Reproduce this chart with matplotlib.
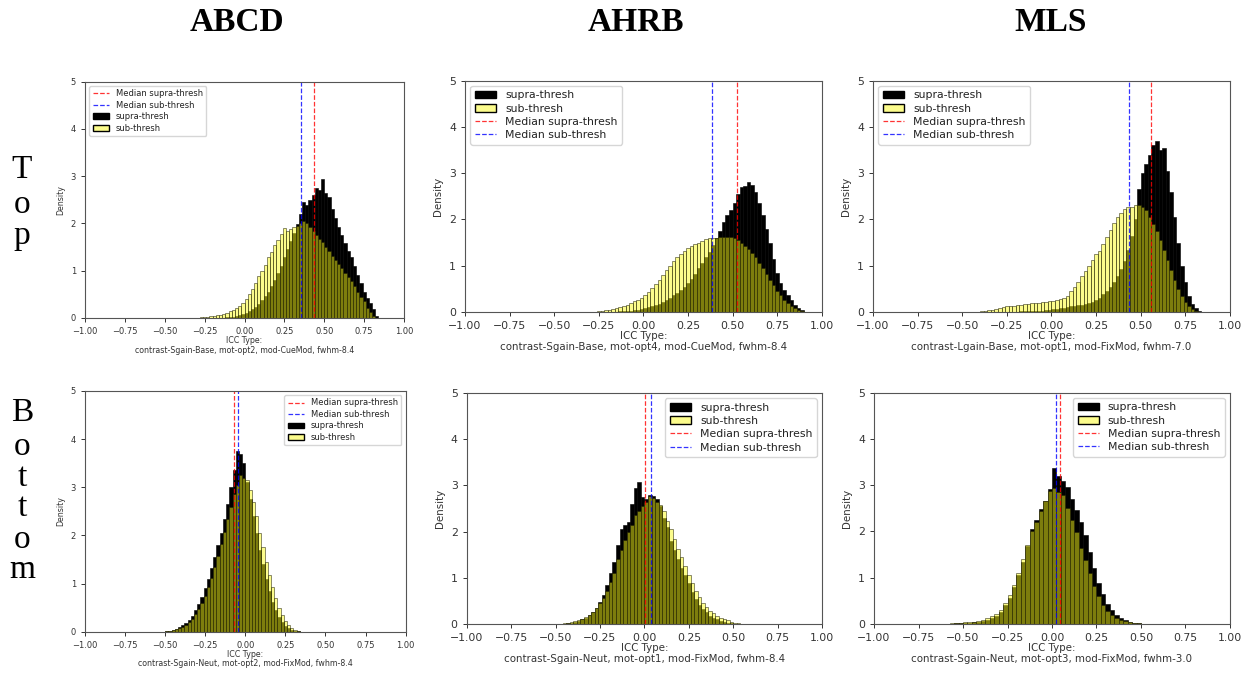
import numpy as np
import matplotlib.pyplot as plt
from matplotlib.patches import Patch
from matplotlib.lines import Line2D

# column / row names
columns = ["ABCD", "AHRB", "MLS"]
rows = ["Top", "Bottom"]

xlabels = [
    ["contrast-Sgain-Base, mot-opt2, mod-CueMod, fwhm-8.4",
     "contrast-Sgain-Base, mot-opt4, mod-CueMod, fwhm-8.4",
     "contrast-Lgain-Base, mot-opt1, mod-FixMod, fwhm-7.0"],
    ["contrast-Sgain-Neut, mot-opt2, mod-FixMod, fwhm-8.4",
     "contrast-Sgain-Neut, mot-opt1, mod-FixMod, fwhm-8.4",
     "contrast-Sgain-Neut, mot-opt3, mod-FixMod, fwhm-3.0"],
]

# histogram densities: first bin edge, bin width, heights
abcd_top_start, abcd_top_width = -0.30, 0.02
abcd_top_supra = [0, 0, 0, 0, 0, 0, 0.01, 0.01, 0.01, 0.02,
                  0.02, 0.03, 0.04, 0.06, 0.08, 0.10, 0.14, 0.18, 0.23, 0.30,
                  0.38, 0.46, 0.56, 0.68, 0.80, 0.95, 1.10, 1.28, 1.45, 1.62,
                  1.80, 1.98, 2.20, 2.45, 2.40, 2.50, 2.60, 2.75, 2.70, 2.95,
                  2.65, 2.55, 2.30, 2.12, 1.92, 1.75, 1.58, 1.42, 1.28, 1.10,
                  0.92, 0.75, 0.55, 0.42, 0.32, 0.20, 0.05]
abcd_top_sub = [0.01, 0.02, 0.02, 0.03, 0.04, 0.05, 0.06, 0.07, 0.09, 0.11,
                0.14, 0.17, 0.21, 0.26, 0.32, 0.40, 0.50, 0.62, 0.75, 0.88,
                1.00, 1.12, 1.28, 1.40, 1.55, 1.65, 1.78, 1.90, 1.85, 1.88,
                1.92, 1.95, 2.02, 2.05, 2.00, 1.92, 1.85, 1.75, 1.68, 1.60,
                1.50, 1.42, 1.32, 1.22, 1.15, 1.05, 0.95, 0.87, 0.78, 0.68,
                0.56, 0.45, 0.35, 0.22, 0.12, 0.05, 0.01]

ahrb_top_start, ahrb_top_width = -0.28, 0.02
ahrb_top_supra = [0, 0, 0, 0.01, 0.01, 0.01, 0.01, 0.02, 0.02, 0.03,
                  0.03, 0.04, 0.05, 0.06, 0.08, 0.10, 0.12, 0.15, 0.18, 0.22,
                  0.26, 0.31, 0.36, 0.42, 0.48, 0.55, 0.63, 0.72, 0.82, 0.95,
                  1.06, 1.18, 1.30, 1.45, 1.60, 1.75, 1.95, 2.10, 2.20, 2.35,
                  2.55, 2.70, 2.72, 2.80, 2.75, 2.60, 2.35, 2.10, 1.80, 1.50,
                  1.15, 0.85, 0.62, 0.48, 0.36, 0.25, 0.15, 0.08, 0.04, 0.01]
ahrb_top_sub = [0.01, 0.02, 0.03, 0.04, 0.05, 0.07, 0.09, 0.11, 0.13, 0.16,
                0.19, 0.23, 0.27, 0.31, 0.36, 0.43, 0.52, 0.60, 0.70, 0.80,
                0.90, 1.00, 1.10, 1.18, 1.25, 1.32, 1.38, 1.42, 1.47, 1.50,
                1.53, 1.57, 1.59, 1.60, 1.60, 1.62, 1.63, 1.62, 1.63, 1.60,
                1.56, 1.50, 1.43, 1.36, 1.28, 1.18, 1.06, 0.95, 0.82, 0.70,
                0.58, 0.46, 0.36, 0.27, 0.20, 0.14, 0.09, 0.05, 0.02, 0.01]

mls_top_start, mls_top_width = -0.42, 0.02
mls_top_supra = [0, 0, 0, 0, 0, 0.01, 0.01, 0.01, 0.01, 0.01,
                 0.01, 0.01, 0.02, 0.02, 0.02, 0.02, 0.03, 0.03, 0.03, 0.04,
                 0.05, 0.06, 0.07, 0.08, 0.09, 0.10, 0.12, 0.13, 0.15, 0.16,
                 0.18, 0.19, 0.21, 0.25, 0.30, 0.38, 0.45, 0.55, 0.65, 0.78,
                 0.92, 1.10, 1.35, 1.65, 2.00, 2.65, 3.00, 3.20, 3.40, 3.60,
                 3.70, 3.50, 3.55, 3.05, 2.60, 2.05, 1.50, 1.00, 0.65, 0.35,
                 0.18, 0.08, 0.03]
mls_top_sub = [0.01, 0.02, 0.03, 0.04, 0.05, 0.06, 0.08, 0.10, 0.12, 0.12,
               0.13, 0.15, 0.16, 0.17, 0.18, 0.19, 0.20, 0.20, 0.21, 0.22,
               0.23, 0.24, 0.26, 0.28, 0.31, 0.35, 0.45, 0.55, 0.65, 0.77,
               0.88, 1.00, 1.12, 1.25, 1.32, 1.48, 1.62, 1.78, 1.92, 2.05,
               2.15, 2.22, 2.26, 2.28, 2.32, 2.32, 2.28, 2.20, 2.05, 1.90,
               1.75, 1.55, 1.35, 1.12, 0.90, 0.70, 0.50, 0.35, 0.22, 0.12,
               0.06, 0.03, 0.01]

abcd_bot_start, abcd_bot_width = -0.50, 0.02
abcd_bot_supra = [0.01, 0.02, 0.04, 0.06, 0.09, 0.13, 0.18, 0.25, 0.33, 0.45,
                  0.58, 0.72, 0.90, 1.10, 1.32, 1.55, 1.80, 2.05, 2.35, 2.65,
                  3.00, 3.35, 3.75, 3.70, 3.50, 3.10, 2.75, 2.40, 2.05, 1.70,
                  1.40, 1.10, 0.85, 0.62, 0.45, 0.30, 0.20, 0.12, 0.07, 0.04,
                  0.02, 0.01]
abcd_bot_sub = [0.01, 0.02, 0.03, 0.05, 0.07, 0.10, 0.14, 0.20, 0.27, 0.36,
                0.47, 0.60, 0.75, 0.92, 1.12, 1.35, 1.58, 1.82, 2.08, 2.35,
                2.60, 2.85, 3.05, 3.25, 3.20, 3.15, 2.95, 2.70, 2.40, 2.05,
                1.75, 1.45, 1.18, 0.92, 0.70, 0.50, 0.35, 0.22, 0.13, 0.07,
                0.03, 0.01]

ahrb_bot_start, ahrb_bot_width = -0.48, 0.02
ahrb_bot_supra = [0.01, 0.01, 0.02, 0.03, 0.05, 0.07, 0.10, 0.14, 0.19, 0.26,
                  0.35, 0.48, 0.62, 0.85, 1.10, 1.35, 1.70, 2.05, 2.15, 2.20,
                  2.60, 2.95, 3.08, 2.75, 2.70, 2.80, 2.78, 2.70, 2.55, 2.30,
                  2.10, 1.80, 1.60, 1.40, 1.22, 1.05, 0.88, 0.70, 0.55, 0.42,
                  0.33, 0.25, 0.18, 0.14, 0.10, 0.07, 0.05, 0.03, 0.02, 0.01,
                  0.01, 0.00]
ahrb_bot_sub = [0.01, 0.02, 0.03, 0.04, 0.06, 0.08, 0.11, 0.15, 0.20, 0.27,
                0.35, 0.45, 0.57, 0.72, 0.90, 1.10, 1.40, 1.60, 1.82, 2.00,
                2.15, 2.35, 2.45, 2.55, 2.65, 2.78, 2.72, 2.65, 2.58, 2.45,
                2.22, 2.05, 1.85, 1.62, 1.45, 1.25, 1.05, 0.88, 0.72, 0.58,
                0.46, 0.36, 0.29, 0.23, 0.18, 0.14, 0.11, 0.08, 0.05, 0.03,
                0.02, 0.01]

mls_bot_start, mls_bot_width = -0.90, 0.025
mls_bot_supra = [0.01, 0.01, 0.01, 0.01, 0.01, 0.01, 0.01, 0.01, 0.01, 0.01,
                 0.01, 0.01, 0.01, 0.01, 0.02, 0.02,
                 0.03, 0.03, 0.04, 0.05, 0.06, 0.09, 0.13, 0.18, 0.26, 0.40,
                 0.56, 0.80, 1.05, 1.35, 1.68, 2.05, 2.25, 2.48, 2.65, 2.92,
                 3.38, 3.20, 3.10, 2.96, 2.70, 2.46, 2.20, 1.92, 1.56, 1.22,
                 0.88, 0.65, 0.44, 0.30, 0.20, 0.13, 0.08, 0.05, 0.03, 0.02,
                 0.01, 0.01, 0.01, 0.01, 0.01, 0.01, 0.01, 0.01]
mls_bot_sub = [0.01, 0.01, 0.01, 0.01, 0.01, 0.01, 0.01, 0.01, 0.01, 0.01,
               0.01, 0.01, 0.01, 0.02, 0.02, 0.02,
               0.05, 0.05, 0.05, 0.06, 0.08, 0.12, 0.17, 0.22, 0.30, 0.45,
               0.62, 0.85, 1.10, 1.40, 1.70, 2.00, 2.20, 2.45, 2.65, 2.88,
               2.95, 2.85, 2.78, 2.50, 2.25, 1.98, 1.65, 1.38, 1.10, 0.82,
               0.60, 0.42, 0.28, 0.20, 0.13, 0.09, 0.06, 0.04, 0.03, 0.02,
               0.01, 0.01, 0.01, 0, 0, 0, 0, 0]

# medians (supra, sub)
medians = [[(0.434, 0.353), (0.523, 0.387), (0.555, 0.434)],
           [(-0.069, -0.048), (0.005, 0.035), (0.044, 0.025)]]

hists = [
    [(abcd_top_start, abcd_top_width, abcd_top_supra, abcd_top_sub),
     (ahrb_top_start, ahrb_top_width, ahrb_top_supra, ahrb_top_sub),
     (mls_top_start, mls_top_width, mls_top_supra, mls_top_sub)],
    [(abcd_bot_start, abcd_bot_width, abcd_bot_supra, abcd_bot_sub),
     (ahrb_bot_start, ahrb_bot_width, ahrb_bot_supra, ahrb_bot_sub),
     (mls_bot_start, mls_bot_width, mls_bot_supra, mls_bot_sub)],
]

# axes rectangles in figure fraction (composite of separate plots)
rects = [
    [[0.0679, 0.5282, 0.2548, 0.3506], [0.3714, 0.5371, 0.2849, 0.3432], [0.6973, 0.5371, 0.2851, 0.3432]],
    [[0.0679, 0.0628, 0.2561, 0.3571], [0.3728, 0.0742, 0.2838, 0.3427], [0.6981, 0.0742, 0.2843, 0.3432]],
]
fsizes = [6.0, 7.8, 7.8]

fig = plt.figure(figsize=(12.52, 6.74), dpi=100)

for r in range(2):
    for c in range(3):
        ax = fig.add_axes(rects[r][c])
        fs = fsizes[c]
        start, width, supra, sub = hists[r][c]
        edges_supra = start + width * np.arange(len(supra))
        edges_sub = start + width * np.arange(len(sub))
        ax.bar(edges_supra, supra, width=width, align='edge', color='black',
               edgecolor='black', linewidth=0.4)
        ax.bar(edges_sub, sub, width=width, align='edge', color=(0.98, 0.98, 0.1, 0.5),
               edgecolor=(0.1, 0.1, 0, 0.7), linewidth=0.5)
        m_sup, m_sub = medians[r][c]
        ax.axvline(m_sup, color='red', linestyle='--', linewidth=0.9, alpha=0.8)
        ax.axvline(m_sub, color='blue', linestyle='--', linewidth=0.9, alpha=0.8)

        ax.set_xlim(-1, 1)
        ax.set_ylim(0, 5)
        ax.set_xticks(np.arange(-1, 1.01, 0.25))
        ax.set_xticklabels([f"{v:.2f}".replace("-", "\u2212") for v in np.arange(-1, 1.01, 0.25)])
        ax.set_yticks(range(6))
        ax.tick_params(labelsize=fs, length=3, width=0.7, colors='#333333')
        ax.set_ylabel("Density", fontsize=fs * 0.95, color='#333333')
        ax.set_xlabel("ICC Type:\n" + xlabels[r][c], fontsize=fs * 0.95, labelpad=0,
                      linespacing=1.1, color='#333333')
        for s in ax.spines.values():
            s.set_color('#555555')

        h_supra = Patch(facecolor='black', edgecolor='black', label='supra-thresh')
        h_sub = Patch(facecolor=(0.98, 0.98, 0.1, 0.5), edgecolor='black', label='sub-thresh')
        h_msup = Line2D([], [], color='red', linestyle='--', linewidth=0.9, alpha=0.8, label='Median supra-thresh')
        h_msub = Line2D([], [], color='blue', linestyle='--', linewidth=0.9, alpha=0.8, label='Median sub-thresh')
        if c == 0:
            handles = [h_msup, h_msub, h_supra, h_sub]
        else:
            handles = [h_supra, h_sub, h_msup, h_msub]
        loc = 'upper left' if r == 0 else 'upper right'
        leg = ax.legend(handles=handles, loc=loc, fontsize=fs, framealpha=0.8,
                        handlelength=2.0, borderpad=0.4, labelspacing=0.3)
        for t in leg.get_texts():
            t.set_color('#222222')

# column titles
for x, name in zip([0.189, 0.508, 0.839], columns):
    fig.text(x, 0.966, name, ha='center', va='center', fontsize=24,
             fontweight='bold', family='Liberation Serif')

# row labels, one letter per line
top_y = [170, 205, 236]
bot_y = [413, 447, 478, 508, 540, 570]
for word, ys in zip(rows, [top_y, bot_y]):
    for ch, y in zip(word, ys):
        fig.text(22 / 1252, 1 - y / 674, ch, ha='center', va='center',
                 fontsize=24, family='Liberation Serif')

fig.savefig("out.png", dpi=100)
